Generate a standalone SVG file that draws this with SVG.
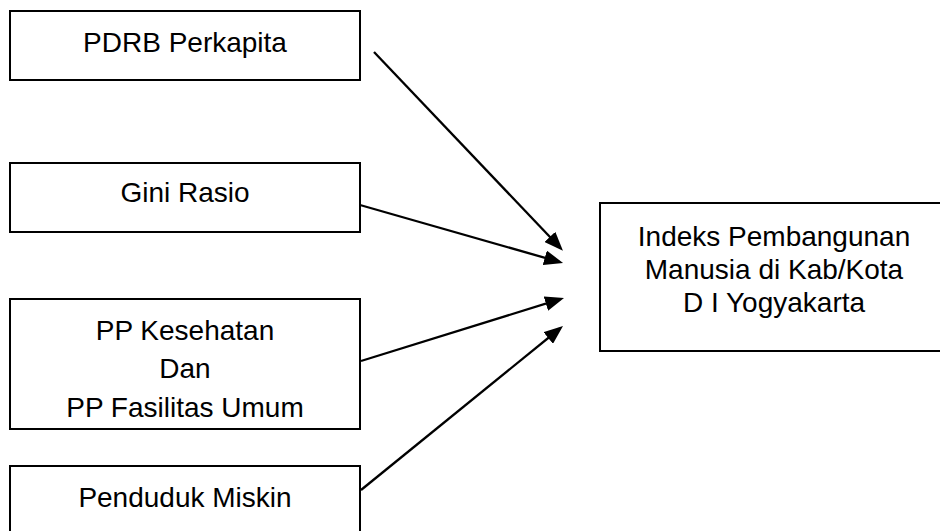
<svg xmlns="http://www.w3.org/2000/svg" width="940" height="531" viewBox="0 0 940 531">
<style>
.box{fill:#fff;stroke:#000;stroke-width:2}
.t{font-family:"Liberation Sans",Arial,sans-serif;font-size:28px;fill:#000;text-anchor:middle}
.c{stroke:#000;stroke-width:2.3;fill:none;marker-end:url(#ah)}
</style>
<defs>
<marker id="ah" markerUnits="userSpaceOnUse" markerWidth="19" markerHeight="15" refX="15" refY="7.5" orient="auto">
<path d="M0,0 L19,7.5 L0,15 z" fill="#000"/>
</marker>
</defs>
<rect width="940" height="531" fill="#fff"/>
<g id="node-pdrb">
<rect class="box" x="10" y="11" width="350" height="69"/>
<text class="t" x="185" y="52">PDRB Perkapita</text>
</g>
<g id="node-gini">
<rect class="box" x="10" y="163" width="350" height="69"/>
<text class="t" x="185" y="202">Gini Rasio</text>
</g>
<g id="node-pp">
<rect class="box" x="10" y="299" width="350" height="130"/>
<text class="t" x="185" y="340"><tspan x="185" y="340">PP Kesehatan</tspan><tspan x="185" y="378">Dan</tspan><tspan x="185" y="416.5">PP Fasilitas Umum</tspan></text>
</g>
<g id="node-miskin">
<rect class="box" x="10" y="466" width="350" height="80"/>
<text class="t" x="185" y="506.5">Penduduk Miskin</text>
</g>
<g id="node-ipm">
<rect class="box" x="600" y="203" width="350" height="148"/>
<text class="t" x="774" y="246"><tspan x="774" y="246">Indeks Pembangunan</tspan><tspan x="774" y="279">Manusia di Kab/Kota</tspan><tspan x="774" y="312">D I Yogyakarta</tspan></text>
</g>
<g id="connectors">
<line class="c" x1="374" y1="52" x2="560.2" y2="247.8"/>
<line class="c" x1="360" y1="205" x2="559.2" y2="261.9"/>
<line class="c" x1="361" y1="361" x2="560.2" y2="299.2"/>
<line class="c" x1="361" y1="490" x2="559.9" y2="328.5"/>
</g>
</svg>
